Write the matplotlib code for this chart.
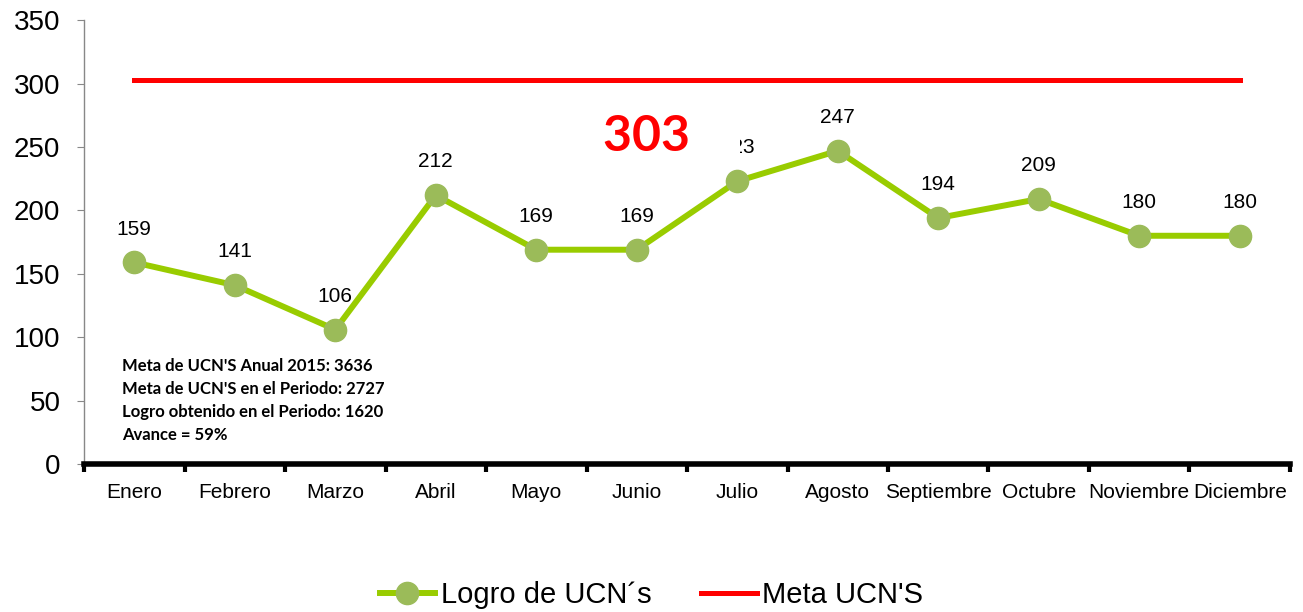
import matplotlib.pyplot as plt
from matplotlib.ticker import FixedLocator, NullFormatter

plt.rcParams['font.family'] = ['Liberation Sans', 'DejaVu Sans']

meses = ["Enero", "Febrero", "Marzo", "Abril", "Mayo", "Junio", "Julio",
         "Agosto", "Septiembre", "Octubre", "Noviembre", "Diciembre"]
logro = [159, 141, 106, 212, 169, 169, 223, 247, 194, 209, 180, 180]
meta = [303] * 12
resumen = ["Meta de UCN'S Anual 2015: 3636",
           "Meta de UCN'S en el Periodo: 2727",
           "Logro obtenido en el Periodo: 1620",
           "Avance = 59%"]

fig = plt.figure(figsize=(13.03, 6.12), dpi=100)
ax = fig.add_axes([0.0645, 0.2418, 0.9255, 0.7252])

x = list(range(len(meses)))
ax.plot(x, logro, color="#99CC00", lw=4.3, marker="o", markersize=16,
        markerfacecolor="#9BBB59", markeredgecolor="#9BBB59",
        label="Logro de UCN´s", zorder=3)
ax.plot(x, meta, color="#FF0000", lw=3.6, label="Meta UCN'S", zorder=2)

for i, v in enumerate(logro):
    ax.annotate(str(v), (i, v), xytext=(0, 24), textcoords="offset points",
                ha="center", va="center", fontsize=15, zorder=4)

# big goal label, its white box clips the Julio label a bit as in the original
ax.text(4.66, 258, str(meta[0]) + "    ", color="#FF0000", fontsize=36,
        fontweight="bold", family=["Lato", "DejaVu Sans"], ha="left",
        va="center", zorder=5,
        bbox=dict(facecolor="white", edgecolor="none", pad=1))

ax.text(-0.12, 84, "\n".join(resumen), fontsize=12, fontweight="bold",
        family=["Lato", "DejaVu Sans"], ha="left", va="top",
        linespacing=1.55, zorder=5)

ax.set_xlim(-0.5, 11.5)
ax.set_ylim(0, 350)
ax.set_yticks(range(0, 351, 50))
ax.tick_params(axis="y", labelsize=20, length=5, color="#888888", pad=12)

ax.set_xticks(x)
ax.set_xticklabels(meses)
ax.tick_params(axis="x", which="major", length=0, labelsize=15, pad=14)
ax.xaxis.set_minor_locator(FixedLocator([i - 0.5 for i in range(13)]))
ax.xaxis.set_minor_formatter(NullFormatter())
ax.tick_params(axis="x", which="minor", length=6, width=3, color="black")

for s in ["top", "right"]:
    ax.spines[s].set_visible(False)
ax.spines["left"].set_color("#888888")
ax.spines["left"].set_linewidth(1)
ax.spines["bottom"].set_linewidth(4)
ax.spines["bottom"].set_color("black")

fig.legend(loc="center", bbox_to_anchor=(0.5, 0.027), ncol=2, frameon=False,
           fontsize=21, handlelength=1.9, handletextpad=0.2, columnspacing=1.7)

fig.savefig("out.png", dpi=100)
